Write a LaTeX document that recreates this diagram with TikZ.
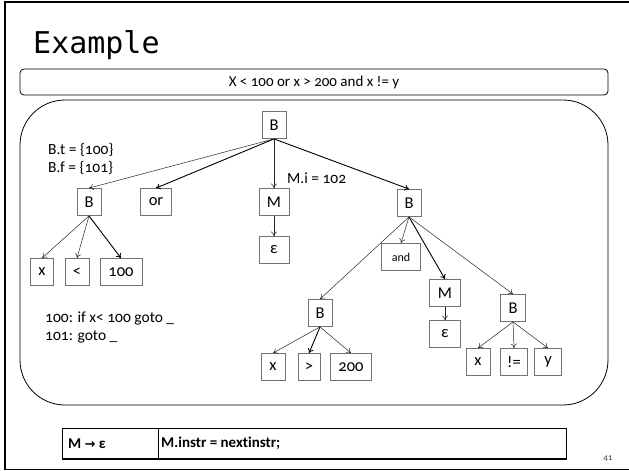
\documentclass[tikz,border=0pt]{standalone}
\usepackage{fontspec}
\setmainfont{Carlito}[Numbers=OldStyle, Ligatures=NoCommon]
\newfontfamily\titlefont{DejaVu Sans Mono}
\newfontfamily\symfont{DejaVu Sans}
\usetikzlibrary{arrows.meta}

\tikzset{
  tbox/.style={draw=black!55, line width=0.8pt, fill=white, inner sep=0pt,
    minimum height=27pt, font=\fontsize{16.5}{16.5}\selectfont},
  edge/.style={-{To[length=4.5pt,width=6pt]}, line width=0.5pt, draw=black!85},
  bedge/.style={edge, line width=0.9pt, draw=black},
  note/.style={anchor=west, inner sep=0pt, font=\fontsize{15.5}{15.5}\selectfont},
  rulecell/.style={anchor=west, inner sep=0pt, font=\bfseries\fontsize{15}{15}\selectfont},
}

\begin{document}
\begin{tikzpicture}[x=1pt,y=-1pt]
\useasboundingbox (0,0) rectangle (629,471);

% slide frame
\draw[line width=2pt] (4.5,1.5) -- (629,1.5);
\draw[line width=1.5pt] (5,1) -- (5,470);
\draw[line width=0.8pt] (5,469.5) -- (629,469.5);

% title
\node[anchor=base west, inner sep=0pt, font=\titlefont\fontsize{30}{30}\selectfont] (title) at (33,53) {Example};

% expression banner
\node[draw, line width=0.8pt, rounded corners=4pt, minimum width=588pt, minimum height=26pt,
  inner sep=0pt, font=\fontsize{15}{15}\selectfont] (expr) at (314,82) {X < 100 or x > 200 and x != y};

% tree frame
\draw[line width=0.8pt, rounded corners=45pt] (20,100) rectangle (608,405);

% parse tree nodes
\node[tbox, minimum width=24pt] (r)   at (274,125) {B};
\node[tbox, minimum width=24pt] (b1)  at (89,202)  {B};
\node[tbox, minimum width=31pt] (or)  at (156,202) {or};
\node[tbox, minimum width=30pt] (m1)  at (274,202) {M};
\node[tbox, minimum width=24pt] (b2)  at (409,203) {B};

\node[tbox, minimum width=23pt] (x1)  at (42,272)  {x};
\node[tbox, minimum width=24pt] (lt)  at (77,272)  {<};
\node[tbox, minimum width=42pt] (c100) at (121,272) {100};
\node[tbox, minimum width=30pt] (e1)  at (274,250) {ε};

\node[tbox, minimum width=39pt, font=\fontsize{12}{12}\selectfont] (and) at (401,257) {and};
\node[tbox, minimum width=31pt] (m2)  at (445,293) {M};
\node[tbox, minimum width=31pt] (e2)  at (445,334) {ε};
\node[tbox, minimum width=24pt] (b3)  at (320,313) {B};
\node[tbox, minimum width=25pt] (b4)  at (513,308) {B};

\node[tbox, minimum width=24pt] (x2)  at (273,367) {x};
\node[tbox, minimum width=22pt] (gt)  at (309,367) {>};
\node[tbox, minimum width=41pt] (c200) at (351,367) {200};
\node[tbox, minimum width=24pt] (x3)  at (478,362) {x};
\node[tbox, minimum width=27pt] (ne)  at (514,362) {!=};
\node[tbox, minimum width=27pt] (y)   at (548,362) {y};

% tree edges
\draw[edge]  (r.south) -- (b1.north);
\draw[bedge] (r.south) -- (or.north);
\draw[edge]  (r.south) -- (m1.north);
\draw[bedge] (r.south) -- (b2.north);

\draw[edge]  (b1.south) -- (x1.north);
\draw[edge]  (b1.south) -- (lt.north);
\draw[bedge] (b1.south) -- (c100.north);
\draw[edge]  (m1.south) -- (e1.north);

\draw[edge]  (b2.south) -- (b3.north);
\draw[edge]  (b2.south) -- (and.north);
\draw[bedge] (b2.south) -- (m2.north);
\draw[edge]  (b2.south) -- (b4.north);
\draw[edge]  (m2.south) -- (e2.north);

\draw[edge]  (b3.south) -- (x2.north);
\draw[bedge] (b3.south) -- (gt.north);
\draw[edge]  (b3.south) -- (c200.north);
\draw[edge]  (b4.south) -- (x3.north);
\draw[edge]  (b4.south) -- (ne.north);
\draw[edge]  (b4.south) -- (y.north);

% attribute notes
\node[note] (bt) at (48,150) {B.t = \{100\}};
\node[note] (bf) at (48,168) {B.f = \{101\}};
\node[note] (mi) at (287,178) {M.i = 102};
\node[note] (g1) at (45,318) {100: if x< 100 goto \_};
\node[note] (g2) at (45,337) {101: goto \_};

% semantic rule table
\draw[line width=0.8pt] (62,428) rectangle (566,459);
\draw[line width=0.8pt] (158,428) -- (158,459);
\draw[line width=2.5pt] (62,459) -- (566,459);
\node[rulecell] (rl) at (68,443.5) {M {\symfont\fontsize{13}{13}\selectfont →} ε};
\node[rulecell] (rr) at (161,443.5) {M.instr = nextinstr;};

% page number
\node[inner sep=0pt, text=black!75, font=\fontsize{9}{9}\selectfont] (pg) at (608,459) {41};
\end{tikzpicture}
\end{document}
